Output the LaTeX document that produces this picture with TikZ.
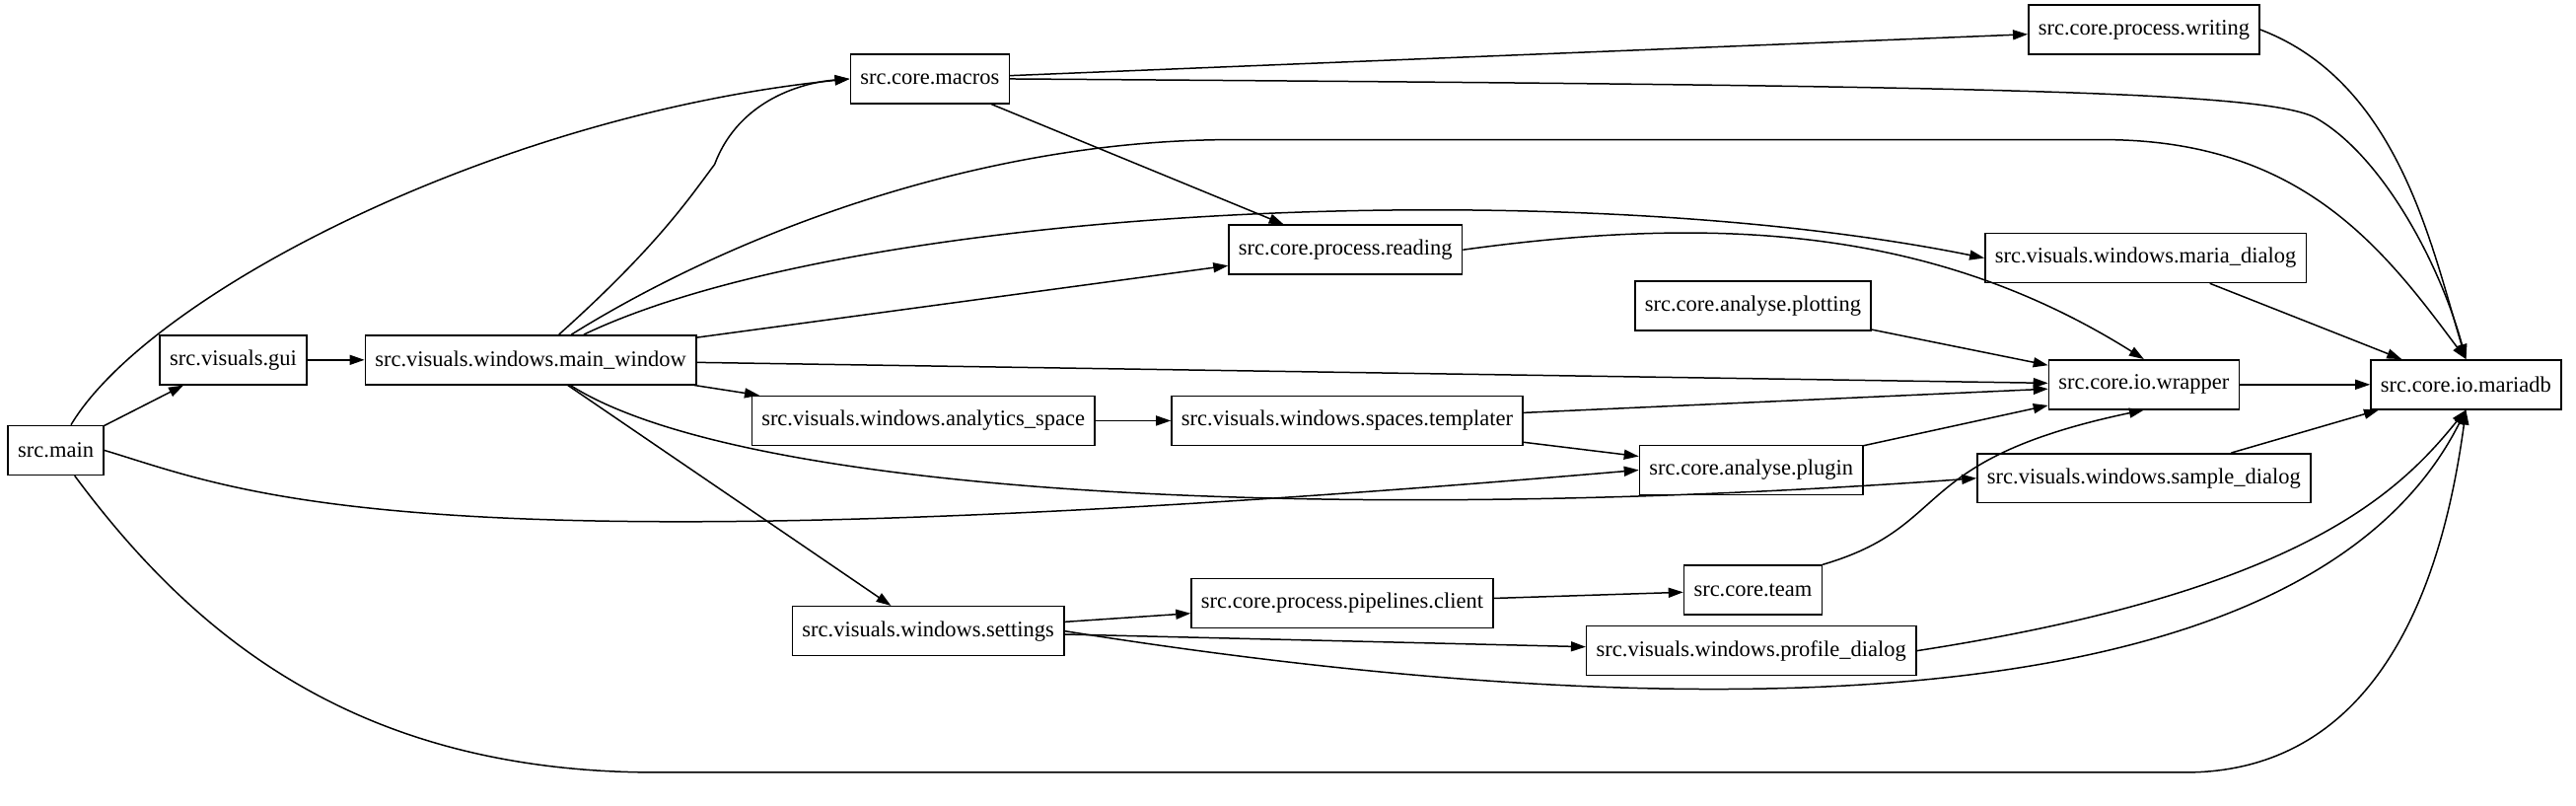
\documentclass[tikz,border=0pt]{standalone}
\usepackage{fontspec}
\setmainfont{Liberation Serif}
\usetikzlibrary{arrows.meta}
\begin{document}
\begin{tikzpicture}[x=1pt,y=-1pt,
  n/.style={draw,line width=0.9pt,minimum height=30pt,inner xsep=6pt,font=\fontsize{13.5}{15}\selectfont},
  e/.style={-{Triangle[length=9pt,width=6pt]},line width=0.9pt}]
\useasboundingbox (0,0) rectangle (1568,490);
\node[n] (main) at (34,274) {src.main};
\node[n] (gui) at (142,219) {src.visuals.gui};
\node[n] (mw) at (323,219) {src.visuals.windows.main\_window};
\node[n] (mac) at (566,48) {src.core.macros};
\node[n] (wri) at (1305,18) {src.core.process.writing};
\node[n] (rea) at (819,152) {src.core.process.reading};
\node[n] (md) at (1306,157) {src.visuals.windows.maria\_dialog};
\node[n] (plo) at (1067,186) {src.core.analyse.plotting};
\node[n] (wr) at (1305,234) {src.core.io.wrapper};
\node[n] (db) at (1501,234) {src.core.io.mariadb};
\node[n] (as) at (562,256) {src.visuals.windows.analytics\_space};
\node[n] (tem) at (820,256) {src.visuals.windows.spaces.templater};
\node[n] (plu) at (1066,286) {src.core.analyse.plugin};
\node[n] (sd) at (1305,291) {src.visuals.windows.sample\_dialog};
\node[n] (set) at (565,384) {src.visuals.windows.settings};
\node[n] (pip) at (817,367) {src.core.process.pipelines.client};
\node[n] (team) at (1067,359) {src.core.team};
\node[n] (pd) at (1066,396) {src.visuals.windows.profile\_dialog};

\draw[e] (main) .. controls (90,180) and (300,70) .. (mac.west);
\draw[e] (main) -- (gui);
\draw[e] (main.east) .. controls (150,300) and (250,350) .. (plu.west);
\draw[e] (main) .. controls (120,390) and (220,470) .. (400,470) -- (1330,470) .. controls (1460,470) and (1490,330) .. (db.south);
\draw[e] (gui) -- (mw);
\draw[e] (mw) .. controls (400,150) and (420,120) .. (435,100) .. controls (450,60) and (490,50) .. (mac.west);
\draw[e] (mw) .. controls (450,140) and (600,85) .. (750,85) -- (1280,85) .. controls (1400,85) and (1450,150) .. (db.north);
\draw[e] (mw) .. controls (520,125) and (950,105) .. (md.west);
\draw[e] (mw) -- (rea);
\draw[e] (mw) -- (wr);
\draw[e] (mw) -- (as);
\draw[e] (mw) .. controls (450,300) and (800,320) .. (sd.west);
\draw[e] (mw) -- (set);
\draw[e] (mac) -- (wri);
\draw[e] (mac.east) .. controls (1200,52) and (1380,55) .. (1410,72) .. controls (1450,95) and (1485,160) .. (db.north);
\draw[e] (mac) -- (rea);
\draw[e] (wri.east) .. controls (1460,50) and (1480,150) .. (db.north);
\draw[e] (rea.east) .. controls (1050,130) and (1180,140) .. (wr.north);
\draw[e] (md) -- (db);
\draw[e] (plo) -- (wr);
\draw[e] (wr) -- (db);
\draw[e] (as) -- (tem);
\draw[e] (tem) -- (wr);
\draw[e] (tem) -- (plu);
\draw[e] (plu) -- (wr);
\draw[e] (sd) -- (db);
\draw[e] (set) -- (pip);
\draw[e] (set) -- (pd);
\draw[e] (set.east) .. controls (1000,440) and (1400,450) .. (db.south);
\draw[e] (pip) -- (team);
\draw[e] (team.north east) .. controls (1190,320) and (1160,280) .. (wr.south);
\draw[e] (pd.east) .. controls (1400,360) and (1460,300) .. (db.south);
\end{tikzpicture}
\end{document}
